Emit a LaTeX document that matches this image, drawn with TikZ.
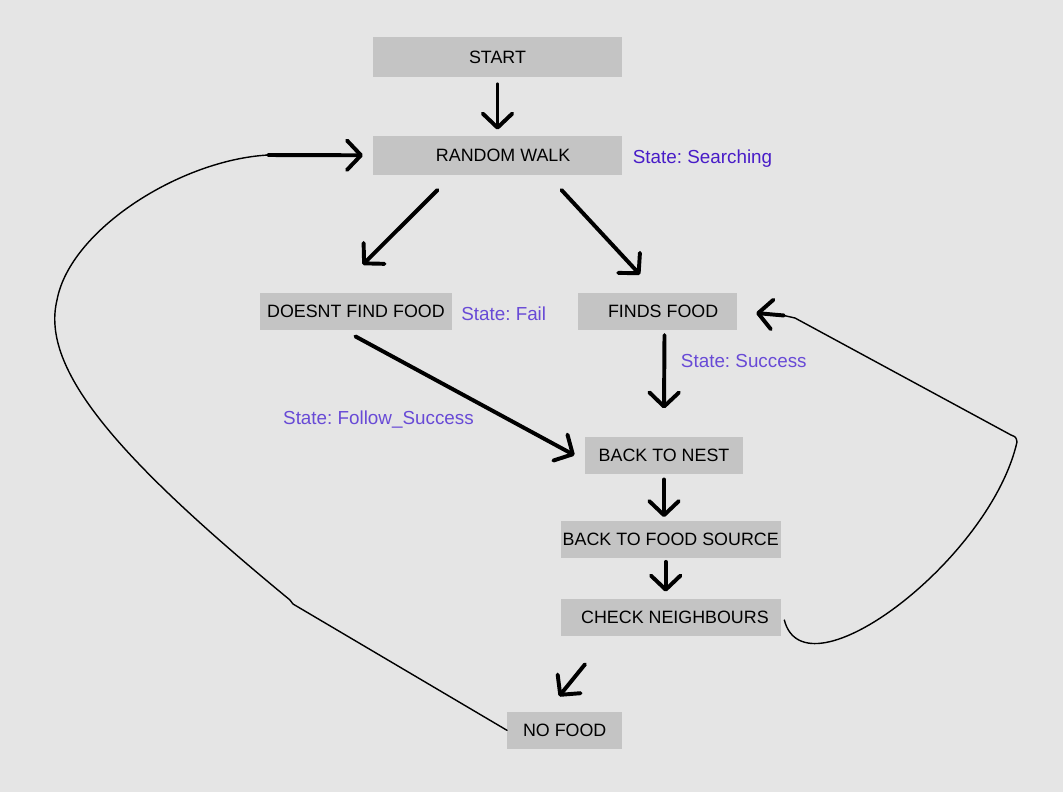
\documentclass[tikz,border=0pt]{standalone}
\usepackage{fontspec}
\setmainfont{Liberation Sans}
\frenchspacing
\usetikzlibrary{arrows.meta,positioning}
\definecolor{canvas}{HTML}{E5E5E5}
\definecolor{boxgrey}{HTML}{C4C4C4}
\definecolor{statedark}{RGB}{72,28,200}
\definecolor{statelight}{RGB}{104,74,214}
\tikzset{
stepbox/.style={fill=boxgrey,minimum height=.92cm,inner sep=0pt,font=\fontsize{12.7}{15}\selectfont},
statelabel/.style={inner sep=0pt,font=\fontsize{13.4}{16}\selectfont},
flow/.style={-{Straight Barb[length=10pt,width=21pt,round]},line width=2.8pt,line cap=round,line join=round},
loopline/.style={line width=1pt,line cap=round,line join=round}
}
\begin{document}
\begin{tikzpicture}[x=0.025cm,y=-0.025cm]
\fill[canvas] (0,0) rectangle (1063,792);
\useasboundingbox (0,0) rectangle (1063,792);
\node[stepbox,minimum width=6.21cm,minimum height=1cm](start) at (497.5,57.3){START};
\node[stepbox,minimum width=6.21cm,minimum height=.97cm](walk) at (497.5,155.3){\hspace*{8pt}RANDOM WALK};
\node[stepbox,minimum width=4.81cm](nofind) at (355.9,311.7){DOESNT FIND FOOD};
\node[stepbox,minimum width=3.96cm](finds) at (657.5,311.3){\hspace*{8pt}FINDS FOOD};
\node[stepbox,minimum width=3.96cm](nest) at (664,455.2){BACK TO NEST};
\node[stepbox,minimum width=5.5cm](source) at (670.7,539.2){BACK TO FOOD SOURCE};
\node[stepbox,minimum width=5.5cm](neigh) at (670.7,617.3){\hspace*{6pt}CHECK NEIGHBOURS};
\node[stepbox,minimum width=2.87cm](nofood) at (564.7,730.3){NO FOOD};
\node[statelabel,text=statedark,right=.265cm of walk,yshift=-.08cm](searching){State: Searching};
\node[statelabel,text=statelight,right=.215cm of nofind,yshift=-.06cm](fail){State: Fail};
\node[statelabel,text=statelight,anchor=west](success) at (680.7,361.5){State: Success};
\node[statelabel,text=statelight,anchor=west](follow) at (282.9,420){State: Follow\_Success};
\draw[flow,shorten <=.17cm,shorten >=.15cm](start)--(walk);
\draw[flow]([shift={(-60,15)}]walk.south)--([shift={(6.8,-28.3)}]nofind.north);
\draw[flow]([shift={(64,15)}]walk.south)--([shift={(-17.5,-18)}]finds.north);
\draw[flow]([shift={(7,5)}]finds.south)--([shift={(0,-28)}]nest.north);
\draw[flow]([shift={(-.5,6)}]nofind.south)--([shift={(-10,0)}]nest.west);
\draw[flow]([shift={(0,5.6)}]nest.south)--([shift={(-6.7,-3.4)}]source.north);
\draw[flow]([shift={(-5,4)}]source.south)--([shift={(-5,-7)}]neigh.north);
\draw[flow]([shift={(-85.7,28.3)}]neigh.south)--([shift={(-5.7,-15.3)}]nofood.north);
\coordinate (walkin) at (268,155);
\draw[loopline](nofood.west)--(293,604)--(290,600) .. controls (120,460) and (40,370) .. (57,300) .. controls (70,230) and (180,160) .. (walkin);
\draw[flow,shorten >=.25cm](walkin)--(walk.west);
\coordinate (findsin) at (784,315.5);
\draw[loopline]([shift={(3.3,2.7)}]neigh.east) .. controls (805,700) and (990,560) .. (1017,442) .. controls (1016,437) .. (1011,435)--(795,318)--(findsin);
\draw[flow,shorten >=.48cm](findsin)--(finds.east);
\end{tikzpicture}
\end{document}
